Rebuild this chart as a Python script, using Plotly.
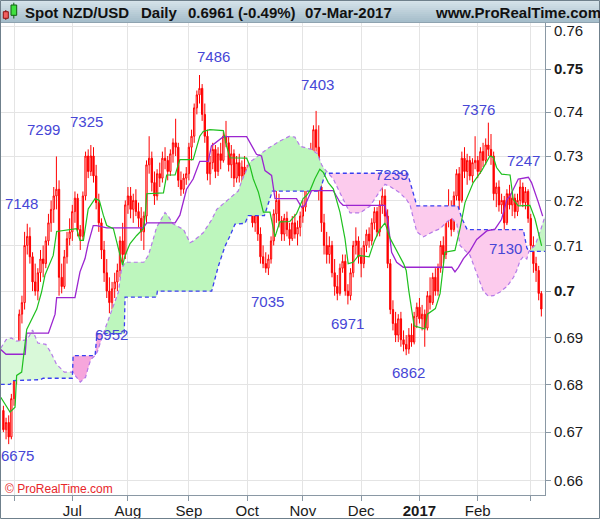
import math
import pandas as pd
import plotly.graph_objects as go

# ---------------- data ----------------
DATES = pd.bdate_range("2016-05-26", "2017-03-07")

OPEN = [0.6745,0.6705,0.6720,0.6690,0.6770,0.6815,0.6830,0.6950,0.6975,0.7100,
        0.7120,0.7075,0.7020,0.7000,0.7040,0.7070,0.7060,0.7110,0.7150,0.7180,
        0.7210,0.7225,0.7030,0.7010,0.7075,0.7115,0.7130,0.7175,0.7205,0.7135,
        0.7120,0.7210,0.7300,0.7265,0.7300,0.7255,0.7195,0.7150,0.7090,0.7040,
        0.7000,0.6975,0.7005,0.7020,0.7045,0.7110,0.7080,0.7190,0.7210,0.7180,
        0.7200,0.7175,0.7160,0.7130,0.7165,0.7280,0.7295,0.7240,0.7210,0.7260,
        0.7250,0.7295,0.7290,0.7265,0.7305,0.7330,0.7320,0.7245,0.7225,0.7250,
        0.7260,0.7320,0.7345,0.7410,0.7440,0.7455,0.7395,0.7345,0.7260,0.7285,
        0.7315,0.7265,0.7305,0.7290,0.7345,0.7330,0.7280,0.7305,0.7250,0.7285,
        0.7255,0.7275,0.7250,0.7270,0.7195,0.7150,0.7175,0.7125,0.7075,0.7060,
        0.7050,0.7070,0.7110,0.7170,0.7200,0.7155,0.7125,0.7160,0.7135,0.7115,
        0.7150,0.7125,0.7140,0.7165,0.7185,0.7240,0.7300,0.7310,0.7360,0.7320,
        0.7230,0.7150,0.7100,0.7080,0.7100,0.7040,0.7010,0.6995,0.7050,0.7065,
        0.7000,0.6990,0.7040,0.7100,0.7110,0.7075,0.7060,0.7100,0.7125,0.7110,
        0.7150,0.7175,0.7130,0.7190,0.7210,0.7165,0.7060,0.6960,0.6930,0.6905,
        0.6940,0.6895,0.6885,0.6875,0.6905,0.6890,0.6945,0.6965,0.6940,0.6950,
        0.6920,0.6990,0.6975,0.7030,0.7000,0.7050,0.7100,0.7080,0.7160,0.7180,
        0.7135,0.7210,0.7260,0.7200,0.7295,0.7265,0.7290,0.7255,0.7285,0.7290,
        0.7265,0.7310,0.7290,0.7325,0.7315,0.7300,0.7215,0.7230,0.7190,0.7200,
        0.7150,0.7215,0.7190,0.7205,0.7175,0.7200,0.7230,0.7195,0.7220,0.7160,
        0.7100,0.7060,0.7045,0.6995]
HIGH = [0.6755,0.6730,0.6735,0.6780,0.6830,0.6850,0.6960,0.6990,0.7130,0.7148,
        0.7140,0.7085,0.7060,0.7050,0.7090,0.7100,0.7120,0.7170,0.7200,0.7230,
        0.7299,0.7245,0.7060,0.7090,0.7130,0.7160,0.7190,0.7220,0.7215,0.7145,
        0.7220,0.7310,0.7315,0.7325,0.7320,0.7280,0.7215,0.7160,0.7110,0.7070,
        0.7030,0.7020,0.7040,0.7060,0.7120,0.7150,0.7200,0.7230,0.7230,0.7215,
        0.7225,0.7195,0.7185,0.7175,0.7290,0.7345,0.7310,0.7265,0.7270,0.7285,
        0.7310,0.7320,0.7300,0.7315,0.7340,0.7385,0.7330,0.7265,0.7260,0.7275,
        0.7330,0.7360,0.7420,0.7450,0.7486,0.7465,0.7420,0.7360,0.7300,0.7330,
        0.7325,0.7320,0.7330,0.7355,0.7380,0.7345,0.7325,0.7315,0.7300,0.7305,
        0.7290,0.7300,0.7280,0.7275,0.7210,0.7190,0.7185,0.7140,0.7100,0.7085,
        0.7080,0.7120,0.7180,0.7230,0.7215,0.7165,0.7170,0.7175,0.7150,0.7165,
        0.7170,0.7155,0.7175,0.7200,0.7250,0.7310,0.7330,0.7370,0.7403,0.7370,
        0.7250,0.7170,0.7130,0.7120,0.7110,0.7070,0.7035,0.7060,0.7080,0.7080,
        0.7015,0.7050,0.7110,0.7140,0.7120,0.7095,0.7110,0.7135,0.7140,0.7160,
        0.7185,0.7185,0.7200,0.7239,0.7225,0.7180,0.7070,0.6980,0.6955,0.6950,
        0.6955,0.6915,0.6905,0.6920,0.6930,0.6955,0.6975,0.6985,0.6970,0.6960,
        0.7000,0.7030,0.7040,0.7050,0.7060,0.7110,0.7120,0.7170,0.7225,0.7200,
        0.7220,0.7270,0.7275,0.7310,0.7320,0.7305,0.7300,0.7295,0.7345,0.7300,
        0.7320,0.7330,0.7340,0.7376,0.7350,0.7310,0.7240,0.7245,0.7215,0.7210,
        0.7225,0.7235,0.7220,0.7215,0.7215,0.7247,0.7240,0.7230,0.7225,0.7170,
        0.7120,0.7075,0.7055,0.7000]
LOW = [0.6700,0.6685,0.6675,0.6685,0.6755,0.6800,0.6820,0.6930,0.6960,0.7080,
       0.7060,0.7000,0.6990,0.6980,0.7020,0.7030,0.7050,0.7100,0.7130,0.7150,
       0.7180,0.6990,0.6995,0.7005,0.7060,0.7100,0.7110,0.7150,0.7120,0.7090,
       0.7110,0.7200,0.7250,0.7255,0.7240,0.7180,0.7130,0.7070,0.7020,0.6985,
       0.6952,0.6960,0.6985,0.7000,0.7030,0.7060,0.7070,0.7170,0.7160,0.7150,
       0.7165,0.7140,0.7110,0.7090,0.7150,0.7260,0.7220,0.7190,0.7200,0.7230,
       0.7240,0.7270,0.7245,0.7255,0.7285,0.7300,0.7230,0.7210,0.7215,0.7235,
       0.7245,0.7290,0.7330,0.7395,0.7420,0.7380,0.7330,0.7245,0.7235,0.7270,
       0.7250,0.7255,0.7270,0.7285,0.7320,0.7265,0.7250,0.7230,0.7240,0.7240,
       0.7225,0.7235,0.7225,0.7180,0.7140,0.7130,0.7110,0.7060,0.7050,0.7040,
       0.7035,0.7060,0.7100,0.7150,0.7140,0.7110,0.7110,0.7120,0.7100,0.7110,
       0.7115,0.7100,0.7120,0.7150,0.7175,0.7220,0.7280,0.7290,0.7310,0.7200,
       0.7130,0.7080,0.7060,0.7060,0.7030,0.6990,0.6980,0.6990,0.7040,0.6990,
       0.6971,0.6980,0.7030,0.7080,0.7060,0.7030,0.7050,0.7085,0.7095,0.7100,
       0.7135,0.7120,0.7120,0.7170,0.7150,0.7050,0.6950,0.6915,0.6890,0.6890,
       0.6880,0.6870,0.6862,0.6865,0.6880,0.6885,0.6920,0.6930,0.6915,0.6880,
       0.6915,0.6960,0.6970,0.6990,0.6990,0.7040,0.7060,0.7070,0.7140,0.7120,
       0.7130,0.7200,0.7180,0.7195,0.7250,0.7235,0.7245,0.7240,0.7270,0.7250,
       0.7260,0.7275,0.7280,0.7300,0.7280,0.7200,0.7185,0.7175,0.7170,0.7130,
       0.7145,0.7180,0.7165,0.7160,0.7165,0.7190,0.7185,0.7180,0.7150,0.7090,
       0.7040,0.7020,0.6980,0.6945]
CLOSE = [0.6705,0.6720,0.6690,0.6770,0.6815,0.6830,0.6950,0.6975,0.7100,0.7120,
         0.7075,0.7020,0.7000,0.7040,0.7070,0.7060,0.7110,0.7150,0.7180,0.7210,
         0.7225,0.7030,0.7010,0.7075,0.7115,0.7130,0.7175,0.7205,0.7135,0.7120,
         0.7210,0.7300,0.7265,0.7300,0.7255,0.7195,0.7150,0.7090,0.7040,0.7000,
         0.6975,0.7005,0.7020,0.7045,0.7110,0.7080,0.7190,0.7210,0.7180,0.7200,
         0.7175,0.7160,0.7130,0.7165,0.7280,0.7295,0.7240,0.7210,0.7260,0.7250,
         0.7295,0.7290,0.7265,0.7305,0.7330,0.7320,0.7245,0.7225,0.7250,0.7260,
         0.7320,0.7345,0.7410,0.7440,0.7455,0.7395,0.7345,0.7260,0.7285,0.7315,
         0.7265,0.7305,0.7290,0.7345,0.7330,0.7280,0.7305,0.7250,0.7285,0.7255,
         0.7275,0.7250,0.7270,0.7195,0.7150,0.7175,0.7125,0.7075,0.7060,0.7050,
         0.7070,0.7110,0.7170,0.7200,0.7155,0.7125,0.7160,0.7135,0.7115,0.7150,
         0.7125,0.7140,0.7165,0.7185,0.7240,0.7300,0.7310,0.7360,0.7320,0.7230,
         0.7150,0.7100,0.7080,0.7100,0.7040,0.7010,0.6995,0.7050,0.7065,0.7000,
         0.6990,0.7040,0.7100,0.7110,0.7075,0.7060,0.7100,0.7125,0.7110,0.7150,
         0.7175,0.7130,0.7190,0.7210,0.7165,0.7060,0.6960,0.6930,0.6905,0.6940,
         0.6895,0.6885,0.6875,0.6905,0.6890,0.6945,0.6965,0.6940,0.6950,0.6920,
         0.6990,0.6975,0.7030,0.7000,0.7050,0.7100,0.7080,0.7160,0.7180,0.7135,
         0.7210,0.7260,0.7200,0.7295,0.7265,0.7290,0.7255,0.7285,0.7290,0.7265,
         0.7310,0.7290,0.7325,0.7315,0.7300,0.7215,0.7230,0.7190,0.7200,0.7150,
         0.7215,0.7190,0.7205,0.7175,0.7200,0.7230,0.7195,0.7220,0.7160,0.7100,
         0.7060,0.7045,0.6995,0.6961]

# Ichimoku lines: (bar index, value) points
TENKAN_X = [-1,2.5,4.4,5,6.9,8.8,11.3,12.6,14.4,15.7,18.8,20.1,27.6,28.9,30.2,32,34.6,36.2,37.7,39,
            41.5,43.4,45,45.9,47.8,50.3,52.8,53.4,54.1,60.4,61.6,64.8,66.6,71.6,74.1,75.4,77.9,83,84.2,85.5,
            91.8,93,94.3,96.2,98.1,100.6,102.5,104.3,108.1,110.6,113.1,114.4,115.7,117.5,119.4,120.7,122.6,124.5,127,128.9,
            130.1,132,134,138,140,142,144,146,151,152,153,155,159,160,163,164.8,166.6,170.4,172.3,174.2,
            177.3,180.5,183.6,184.9,186.1,188,191.2,192.4,194.3,198.7,200.6,203.1]
TENKAN = [0.6773,0.6742,0.6752,0.6819,0.6826,0.6917,0.6946,0.6961,0.6998,0.7035,0.7078,0.7131,0.7137,0.7111,0.7111,0.7181,0.7204,0.7200,0.7167,0.7144,
          0.7137,0.7096,0.7056,0.7078,0.7104,0.7122,0.7137,0.7159,0.7215,0.7217,0.7257,0.7257,0.7292,0.7292,0.7345,0.7356,0.7360,0.7358,0.7323,0.7296,
          0.7295,0.7278,0.7248,0.7219,0.7174,0.7174,0.7119,0.7152,0.7153,0.7170,0.7204,0.7211,0.7222,0.7248,0.7270,0.7263,0.7240,0.7226,0.7174,0.7115,
          0.7060,0.7063,0.7078,0.7075,0.7110,0.7135,0.7150,0.7115,0.7060,0.7045,0.7000,0.6925,0.6918,0.6950,0.6962,0.6995,0.7085,0.7089,0.7137,0.7195,
          0.7240,0.7267,0.7300,0.7297,0.7274,0.7259,0.7257,0.7202,0.7188,0.7189,0.7159,0.7099]

KIJUN_X = [-1,1,8.2,8.8,17,19.5,20.1,27,28.9,30.8,32,33.9,35.2,39,52.8,54.1,64.8,66.6,69.1,71.6,
           74.1,77.3,78.5,83,91.8,95.5,97.4,98.7,101.2,102.5,110.6,112.5,113.8,115,116.3,124.5,127,128.2,144,145.3,
           146.5,148.4,150.9,169.2,170.4,171.7,173.6,176.1,178.6,182.4,185.5,188,190,191.2,194.3,198.1,199.3,201.9,203.5]
KIJUN = [0.6874,0.6864,0.6864,0.6909,0.6909,0.6950,0.6986,0.6986,0.7042,0.7071,0.7104,0.7144,0.7144,0.7139,0.7139,0.7150,0.7150,0.7167,0.7225,0.7248,
         0.7288,0.7288,0.7323,0.7344,0.7344,0.7304,0.7300,0.7267,0.7256,0.7204,0.7204,0.7185,0.7189,0.7207,0.7222,0.7222,0.7196,0.7189,0.7189,0.7144,
         0.7085,0.7063,0.7052,0.7052,0.7042,0.7052,0.7071,0.7088,0.7113,0.7132,0.7136,0.7158,0.7202,0.7210,0.7248,0.7252,0.7240,0.7195,0.7165]

SENKOU_A_X = [-1,1,3,5,9,11,13,16,18,20,23,26.1,29,31,32,33,34.6,35.5,37.7,41.5,
              43.4,44.6,46,53,54.7,56.6,57.8,61,62.2,64,68,70.4,71.7,75.4,78.6,80.5,86.7,88.6,89.9,93,
              100,104.3,108,110,112,116.3,118.5,120.1,121,122.5,124.5,127,129.5,130.8,134.5,138.3,142.1,144,145.9,149.6,
              152.1,153.5,154.7,156,158.5,160,162.3,164.8,167.3,169.2,171.1,172.3,173.6,176.1,178,179.3,181.1,183,184.9,187.4,
              190,192.5,193.7,195,196.2,197.5,198.3,200.6,202.5,204.4]
SENKOU_A = [0.6877,0.6895,0.6899,0.6892,0.6895,0.6916,0.6888,0.6885,0.6867,0.6843,0.6826,0.6826,0.6805,0.6815,0.6836,0.6853,0.6861,0.6870,0.6908,0.6968,
            0.6998,0.7049,0.7063,0.7063,0.7078,0.7115,0.7140,0.7173,0.7165,0.7148,0.7135,0.7106,0.7110,0.7128,0.7157,0.7180,0.7210,0.7221,0.7243,0.7286,
            0.7318,0.7334,0.7345,0.7343,0.7322,0.7315,0.7305,0.7280,0.7272,0.7261,0.7248,0.7217,0.7187,0.7172,0.7172,0.7187,0.7221,0.7236,0.7231,0.7217,
            0.7202,0.7189,0.7160,0.7130,0.7119,0.7124,0.7131,0.7137,0.7152,0.7160,0.7148,0.7100,0.7093,0.7078,0.7048,0.7026,0.7000,0.6989,0.6990,0.6998,
            0.7010,0.7030,0.7045,0.7067,0.7075,0.7070,0.7087,0.7100,0.7130,0.7165]

SENKOU_B_X = [-1,2.5,3.8,14,15,26.0,26.1,26.3,34.6,35.3,37.7,45.6,45.9,57.8,58.1,78.6,81.1,83.6,85.5,87.4,
              91.2,92.4,98.5,101.5,119.4,121.5,122.5,152.5,154,156,171.5,173,175,196.2,197.5,198.3,204.4]
SENKOU_B = [0.6800,0.6800,0.6808,0.6810,0.6813,0.6813,0.6826,0.6861,0.6861,0.6908,0.6908,0.6908,0.6987,0.6987,0.7000,0.7000,0.7054,0.7098,0.7121,0.7147,
            0.7149,0.7166,0.7166,0.7221,0.7221,0.7261,0.7261,0.7261,0.7230,0.7188,0.7188,0.7160,0.7135,0.7135,0.7095,0.7087,0.7087]

# cloud pieces between crossings (alternating: A above B, then B above A, ...)
CLOUD_CROSS = [-1, 26.1, 37.7, 122.5, 198.3, 204.4]

LABEL_TEXT = ["6675", "7148", "7299", "7325", "6952", "7486", "7035",
              "7403", "6971", "7239", "6862", "7376", "7130", "7247"]
LABEL_X = [5.5, 6.9, 15.0, 31.2, 40.9, 79.1, 99.8, 118.7, 130.0, 146.3, 153.0, 179.1, 189.3, 196.1]
LABEL_PRICE = [0.6675, 0.7148, 0.7299, 0.7325, 0.6952, 0.7486, 0.7035,
               0.7403, 0.6971, 0.7239, 0.6862, 0.7376, 0.7130, 0.7247]

Y_TICKS = [0.66, 0.67, 0.68, 0.69, 0.70, 0.71, 0.72, 0.73, 0.74, 0.75, 0.76]
Y_TICK_TEXT = ["0.66", "0.67", "0.68", "0.69", "<b>0.7</b>", "0.71", "0.72", "0.73", "0.74", "<b>0.75</b>", ""]
TOP_TICK_TEXT = "0.76"
MONTH_TEXT = {6: "", 7: "Jul", 8: "Aug", 9: "Sep", 10: "Oct", 11: "Nov", 12: "Dec", 1: "<b>2017</b>", 2: "Feb", 3: ""}

# ---------------- layout geometry ----------------
W, H = 600, 519
ML, MR, MT, MB = 1, 55, 23, 24
PW, PH = W - ML - MR, H - MT - MB
FONT = "Liberation Sans, Arial, Helvetica, sans-serif"

def px(xp):
    return (xp - ML) / PW

def py(yp):
    return (H - MB - yp) / PH

bar_idx = list(range(len(DATES)))
tick_pos, tick_txt = [], []
for i, d in enumerate(DATES):
    if i == 0 or d.month != DATES[i - 1].month:
        if i > 0 or d.day == 1:
            tick_pos.append(i)
            tick_txt.append(MONTH_TEXT[d.month])

fig = go.Figure()

# cloud
cloud_cols = {True: ["#d9f9d9", "#bdf6bd", "#c4f5c4"], False: ["#f6a6dc", "#fccbed"]}
gi = pi = 0
for k in range(len(CLOUD_CROSS) - 1):
    a, b = CLOUD_CROSS[k], CLOUD_CROSS[k + 1]
    ax = [x for x in SENKOU_A_X if a <= x <= b]
    ay = [v for x, v in zip(SENKOU_A_X, SENKOU_A) if a <= x <= b]
    bx = [x for x in SENKOU_B_X if a <= x <= b]
    by = [v for x, v in zip(SENKOU_B_X, SENKOU_B) if a <= x <= b]
    green = k % 2 == 0
    if green:
        col = cloud_cols[True][min(gi, 2)]; gi += 1
    else:
        col = cloud_cols[False][min(pi, 1)]; pi += 1
    fig.add_trace(go.Scatter(x=ax + bx[::-1], y=ay + by[::-1], fill="toself", fillcolor=col,
                             mode="lines", line=dict(width=0), hoverinfo="skip", showlegend=False))

fig.add_trace(go.Scatter(x=SENKOU_A_X, y=SENKOU_A, mode="lines",
                         line=dict(color="#b57ae8", width=1.2, dash="4px,3px"), showlegend=False))
fig.add_trace(go.Scatter(x=SENKOU_B_X, y=SENKOU_B, mode="lines",
                         line=dict(color="#3a3ff0", width=1.3, dash="4px,3px"), showlegend=False))

fig.add_trace(go.Candlestick(x=bar_idx, open=OPEN, high=HIGH, low=LOW, close=CLOSE,
                             increasing=dict(line=dict(color="#ff0000", width=1), fillcolor="#ffffff"),
                             decreasing=dict(line=dict(color="#ff0000", width=1), fillcolor="#ff0000"),
                             whiskerwidth=0, showlegend=False))

fig.add_trace(go.Scatter(x=KIJUN_X, y=KIJUN, mode="lines",
                         line=dict(color="#9b25d0", width=1.3), showlegend=False))
fig.add_trace(go.Scatter(x=TENKAN_X, y=TENKAN, mode="lines",
                         line=dict(color="#1fc01f", width=1.2), showlegend=False))

# price labels
LABEL_SHIFT = [-11, 20, 27, 24, -21, 19, -26, 26, -19, 9, -17, 13, -17, 19]
for t, x, p, s in zip(LABEL_TEXT, LABEL_X, LABEL_PRICE, LABEL_SHIFT):
    fig.add_annotation(x=x, y=math.log10(p), text=t, showarrow=False, yshift=s,
                       xanchor="center", yanchor="middle",
                       font=dict(family=FONT, size=15, color="#4646d6"))

shapes = []
# header gradient
top_c, bot_c = (214, 227, 234), (166, 190, 203)
n = 11
for k in range(n):
    f = k / (n - 1)
    c = tuple(int(round(top_c[i] + (bot_c[i] - top_c[i]) * f)) for i in range(3))
    shapes.append(dict(type="rect", xref="paper", yref="paper", x0=px(0), x1=px(600),
                       y0=py(2 * k + 2), y1=py(2 * k), line=dict(width=0),
                       fillcolor="rgb(%d,%d,%d)" % c, layer="above"))
shapes.append(dict(type="line", xref="paper", yref="paper", x0=px(0), x1=px(600),
                   y0=py(22.5), y1=py(22.5), line=dict(color="#8ea3b0", width=1), layer="above"))
# header icon candles
shapes.append(dict(type="line", xref="paper", yref="paper", x0=px(5.8), x1=px(5.8), y0=py(20), y1=py(10),
                   line=dict(color="#8b1010", width=1), layer="above"))
shapes.append(dict(type="rect", xref="paper", yref="paper", x0=px(3.3), x1=px(8.3), y0=py(18.3), y1=py(11.7),
                   line=dict(color="#8b1010", width=1), fillcolor="#f06060", layer="above"))
shapes.append(dict(type="line", xref="paper", yref="paper", x0=px(13.8), x1=px(13.8), y0=py(18.5), y1=py(2.7),
                   line=dict(color="#106010", width=1), layer="above"))
shapes.append(dict(type="rect", xref="paper", yref="paper", x0=px(11), x1=px(16.7), y0=py(15.3), y1=py(5),
                   line=dict(color="#106010", width=1), fillcolor="#40e040", layer="above"))
# outer frame
shapes.append(dict(type="rect", xref="paper", yref="paper", x0=px(0.5), x1=px(599.5), y0=py(518.5), y1=py(0.5),
                   line=dict(color="#6f808c", width=1), layer="above"))

hdr = [("Spot NZD/USD", 22.7), ("Daily", 139.3), ("0.6961 (-0.49%)", 186), ("07-Mar-2017", 302.7),
       ("www.ProRealTime.com", 433.3)]
for t, x in hdr:
    fig.add_annotation(xref="paper", yref="paper", x=px(x), y=py(12.5), text="<b>%s</b>" % t,
                       showarrow=False, xanchor="left", yanchor="middle",
                       font=dict(family=FONT, size=15, color="#111111"))
fig.add_annotation(xref="paper", yref="paper", x=px(3), y=py(489), text="© ProRealTime.com",
                   showarrow=False, xanchor="left", yanchor="middle",
                   font=dict(family=FONT, size=12, color="#e8262a"))
# the top price tick label sits a little lower than its tick, below the header
fig.add_annotation(xref="paper", yref="paper", x=px(552), y=py(31), text=TOP_TICK_TEXT,
                   showarrow=False, xanchor="left", yanchor="middle",
                   font=dict(family=FONT, size=15, color="#1a1a1a"))

log_top = math.log10(0.75) + (69 - MT) / 7412.0
log_bot = math.log10(0.66) - (H - MB - 480.5) / 7412.0
x0 = -(3.4 - ML) / 2.65
x1 = x0 + PW / 2.65

fig.update_layout(
    width=W, height=H, margin=dict(l=ML, r=MR, t=MT, b=MB, pad=0, autoexpand=False),
    paper_bgcolor="#ffffff", plot_bgcolor="#ffffff", showlegend=False,
    shapes=shapes,
    xaxis=dict(range=[x0, x1], tickmode="array", tickvals=tick_pos, ticktext=tick_txt,
               showgrid=True, gridcolor="#e4e4e4", gridwidth=1, zeroline=False,
               showline=True, linecolor="#8a98a4", linewidth=1, ticks="outside", ticklen=5,
               tickcolor="#8a98a4", rangeslider=dict(visible=False), automargin=False,
               ticklabelstandoff=-3,
               tickfont=dict(family=FONT, size=15, color="#1a1a1a"), fixedrange=True),
    yaxis=dict(type="log", range=[log_bot, log_top], side="right", tickmode="array",
               tickvals=Y_TICKS, ticktext=Y_TICK_TEXT, showgrid=True, gridcolor="#e4e4e4",
               zeroline=False, showline=True, linecolor="#8a98a4", linewidth=1,
               ticks="outside", ticklen=5, tickcolor="#8a98a4", automargin=False,
               tickfont=dict(family=FONT, size=15, color="#1a1a1a"), fixedrange=True),
)

fig.write_html("out.html", config={"displayModeBar": False},
               post_script="document.body.style.margin='0px';document.body.style.overflow='hidden';")
